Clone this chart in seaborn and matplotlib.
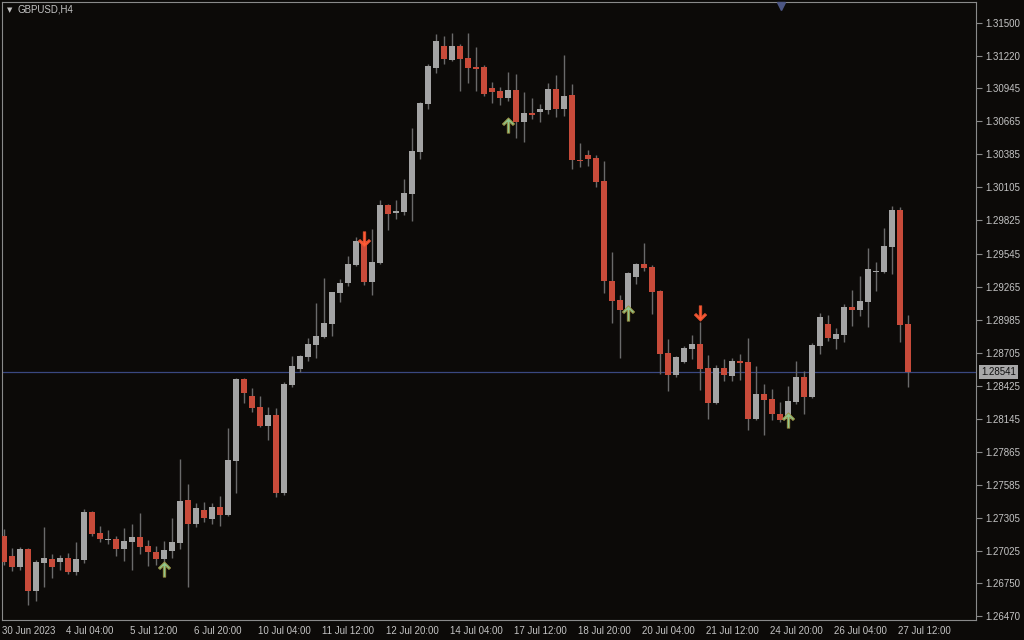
"""
Gráfico de candles GBPUSD H4 no estilo MetaTrader.
"""

import numpy as np
import pandas as pd
import matplotlib
matplotlib.use("Agg")
import matplotlib.pyplot as plt
import matplotlib.transforms as mtransforms
from matplotlib.path import Path
import seaborn as sns

SYMBOL = "GBPUSD,H4"

# Dados OHLC (30 Jun 20:00 -> 27 Jul 16:00)
opens = [
    1.27150, 1.26980, 1.26887, 1.27040, 1.26683, 1.26921, 1.26955, 1.26929, 1.26963, 1.26844,
    1.26946, 1.27353, 1.27175, 1.27116, 1.27124, 1.27040, 1.27099, 1.27141, 1.27065, 1.27014,
    1.26955, 1.27022, 1.27090, 1.27455, 1.27252, 1.27370, 1.27294, 1.27396, 1.27328, 1.27786,
    1.28481, 1.28337, 1.28244, 1.28083, 1.28176, 1.27514, 1.28430, 1.28566, 1.28668, 1.28769,
    1.28837, 1.28947, 1.29210, 1.29295, 1.29448, 1.29651, 1.29304, 1.29465, 1.29957, 1.29889,
    1.29897, 1.30050, 1.30406, 1.30813, 1.31118, 1.31305, 1.31186, 1.31305, 1.31203, 1.31127,
    1.31127, 1.30949, 1.30923, 1.30864, 1.30932, 1.30660, 1.30737, 1.30745, 1.30762, 1.30940,
    1.30771, 1.30889, 1.30338, 1.30381, 1.30355, 1.30160, 1.29312, 1.29151, 1.29066, 1.29346,
    1.29456, 1.29431, 1.29227, 1.28702, 1.28515, 1.28625, 1.28735, 1.28778, 1.28574, 1.28278,
    1.28574, 1.28506, 1.28634, 1.28625, 1.28142, 1.28354, 1.28311, 1.28184, 1.28142, 1.28286,
    1.28498, 1.28329, 1.28761, 1.28947, 1.28820, 1.28854, 1.29092, 1.29066, 1.29134, 1.29388,
    1.29388, 1.29600, 1.29914, 1.28947,
]
highs = [
    1.27209, 1.27048, 1.27056, 1.27048, 1.26946, 1.27226, 1.26997, 1.26989, 1.27006, 1.27099,
    1.27379, 1.27362, 1.27235, 1.27201, 1.27150, 1.27218, 1.27251, 1.27345, 1.27116, 1.27065,
    1.27108, 1.27302, 1.27803, 1.27591, 1.27430, 1.27438, 1.27430, 1.27489, 1.28066, 1.28490,
    1.28490, 1.28405, 1.28337, 1.28244, 1.28235, 1.28456, 1.28676, 1.28684, 1.28829, 1.29126,
    1.29338, 1.29219, 1.29329, 1.29524, 1.29685, 1.29677, 1.29753, 1.29999, 1.29965, 1.29999,
    1.30177, 1.30610, 1.30830, 1.31152, 1.31407, 1.31390, 1.31415, 1.31322, 1.31415, 1.31296,
    1.31144, 1.31000, 1.30957, 1.31085, 1.31068, 1.30915, 1.30864, 1.30813, 1.30991, 1.31059,
    1.31229, 1.30983, 1.30483, 1.30423, 1.30381, 1.30330, 1.29558, 1.29193, 1.29388, 1.29465,
    1.29634, 1.29448, 1.29236, 1.28820, 1.28676, 1.28761, 1.28854, 1.28964, 1.28684, 1.28600,
    1.28651, 1.28659, 1.28693, 1.28829, 1.28591, 1.28439, 1.28396, 1.28286, 1.28422, 1.28634,
    1.28549, 1.28786, 1.29041, 1.29024, 1.28913, 1.29117, 1.29236, 1.29354, 1.29592, 1.29473,
    1.29762, 1.29948, 1.29940, 1.29024,
]
lows = [
    1.26904, 1.26853, 1.26861, 1.26565, 1.26599, 1.26717, 1.26794, 1.26861, 1.26828, 1.26819,
    1.26921, 1.27150, 1.27099, 1.27082, 1.26980, 1.26938, 1.26861, 1.26997, 1.26895, 1.26904,
    1.26929, 1.26963, 1.27040, 1.26717, 1.27226, 1.27268, 1.27252, 1.27235, 1.27319, 1.27514,
    1.28278, 1.28201, 1.28074, 1.27964, 1.27480, 1.27497, 1.28413, 1.28540, 1.28634, 1.28659,
    1.28829, 1.28846, 1.29134, 1.29270, 1.29439, 1.29278, 1.29193, 1.29456, 1.29744, 1.29838,
    1.29872, 1.29821, 1.30347, 1.30771, 1.31076, 1.31152, 1.31178, 1.30923, 1.30991, 1.30923,
    1.30881, 1.30822, 1.30805, 1.30839, 1.30525, 1.30491, 1.30686, 1.30660, 1.30728, 1.30703,
    1.30711, 1.30262, 1.30279, 1.30288, 1.30109, 1.29210, 1.28956, 1.28659, 1.29000, 1.29287,
    1.29397, 1.29032, 1.28523, 1.28379, 1.28498, 1.28617, 1.28651, 1.28388, 1.28142, 1.28269,
    1.28464, 1.28464, 1.28472, 1.28049, 1.28133, 1.28006, 1.28133, 1.28116, 1.28099, 1.28269,
    1.28184, 1.28320, 1.28693, 1.28803, 1.28735, 1.28795, 1.28930, 1.29015, 1.28922, 1.29227,
    1.29380, 1.29371, 1.28795, 1.28413,
]
closes = [
    1.26929, 1.26887, 1.27040, 1.26683, 1.26929, 1.26963, 1.26887, 1.26963, 1.26844, 1.26955,
    1.27353, 1.27167, 1.27124, 1.27124, 1.27040, 1.27108, 1.27141, 1.27056, 1.27014, 1.26955,
    1.27031, 1.27099, 1.27447, 1.27252, 1.27387, 1.27302, 1.27396, 1.27328, 1.27794, 1.28481,
    1.28362, 1.28235, 1.28083, 1.28176, 1.27514, 1.28439, 1.28591, 1.28676, 1.28778, 1.28846,
    1.28956, 1.29219, 1.29295, 1.29456, 1.29651, 1.29304, 1.29473, 1.29957, 1.29880, 1.29906,
    1.30058, 1.30414, 1.30822, 1.31135, 1.31347, 1.31195, 1.31305, 1.31195, 1.31118, 1.31110,
    1.30898, 1.30915, 1.30864, 1.30932, 1.30660, 1.30737, 1.30720, 1.30771, 1.30940, 1.30771,
    1.30881, 1.30338, 1.30330, 1.30347, 1.30152, 1.29312, 1.29143, 1.29066, 1.29380, 1.29456,
    1.29422, 1.29219, 1.28693, 1.28515, 1.28668, 1.28744, 1.28778, 1.28566, 1.28278, 1.28574,
    1.28515, 1.28634, 1.28617, 1.28142, 1.28354, 1.28303, 1.28184, 1.28133, 1.28295, 1.28498,
    1.28329, 1.28769, 1.29007, 1.28829, 1.28863, 1.29092, 1.29066, 1.29143, 1.29414, 1.29397,
    1.29609, 1.29914, 1.28939, 1.28541,
]

# Escala de tempo (índice do candle -> rótulo)
time_label_bars = [0, 8, 16, 24, 32, 40, 48, 56, 64, 72, 80, 88, 96, 104, 112]
time_labels = [
    "30 Jun 2023", "4 Jul 04:00", "5 Jul 12:00", "6 Jul 20:00", "10 Jul 04:00",
    "11 Jul 12:00", "12 Jul 20:00", "14 Jul 04:00", "17 Jul 12:00", "18 Jul 20:00",
    "20 Jul 04:00", "21 Jul 12:00", "24 Jul 20:00", "26 Jul 04:00", "27 Jul 12:00",
]

# Escala de preço
price_ticks = [
    1.31500, 1.31220, 1.30945, 1.30665, 1.30385, 1.30105, 1.29825, 1.29545, 1.29265,
    1.28985, 1.28705, 1.28425, 1.28145, 1.27865, 1.27585, 1.27305, 1.27025, 1.26750, 1.26470,
]
current_price = 1.28541

# Sinais do indicador (setas)
buy_bars = [20, 63, 78, 98]
buy_prices = [1.26873, 1.30635, 1.29041, 1.28133]
sell_bars = [45, 87]
sell_prices = [1.29668, 1.29041]

BG = "#0c0a08"
BULL = "#a4a4a4"
BEAR = "#c84b3a"
WICK = "#6a6a6a"
TEXT = "#c4c4c4"
FRAME = "#8a8a8a"

# Forma da seta (estilo Wingdings do terminal), apontando para cima
ARROW_UP = Path([
    (0.0, 1.0), (0.8, 0.2), (0.58, 0.0), (0.16, 0.42), (0.16, -1.0),
    (-0.16, -1.0), (-0.16, 0.42), (-0.58, 0.0), (-0.8, 0.2), (0.0, 1.0),
], closed=True)
ARROW_DOWN = Path([(x, -y) for x, y in ARROW_UP.vertices], closed=True)


def build_frame():
    """
    Monta o DataFrame de candles.

    Returns:
        DataFrame com OHLC e cor de cada candle
    """
    df = pd.DataFrame({"open": opens, "high": highs, "low": lows, "close": closes})
    df["bar"] = np.arange(len(df))
    df["bull"] = df["close"] >= df["open"]
    df["color"] = np.where(df["bull"], BULL, BEAR)
    return df


def plot_candles(ax, df):
    """
    Desenha pavios e corpos dos candles.
    """
    ax.vlines(df["bar"], df["low"], df["high"], color=WICK, linewidth=1, zorder=2)
    body = np.maximum((df["close"] - df["open"]).abs(), 0.00009)
    bottom = df[["open", "close"]].min(axis=1)
    ax.bar(df["bar"], body, bottom=bottom, width=0.86, color=df["color"],
           linewidth=0, zorder=3)


def plot_signals(ax):
    """
    Desenha as setas de compra e venda.
    """
    ax.plot(buy_bars, buy_prices, linestyle="none", marker=ARROW_UP, markersize=11,
            color="#8fc58c", markeredgecolor="#9c8f3e", markeredgewidth=0.6, zorder=4)
    ax.plot(sell_bars, sell_prices, linestyle="none", marker=ARROW_DOWN, markersize=11,
            color="#ff5a36", markeredgecolor="#e0502e", markeredgewidth=0.6, zorder=4)


def style_axes(ax, fig):
    """
    Ajusta eixos, escalas e textos no estilo do terminal.
    """
    ax.set_xlim(-0.25, 121.5)
    ax.set_ylim(1.26437, 1.31678)

    for spine in ax.spines.values():
        spine.set_color(FRAME)
        spine.set_linewidth(0.8)

    # Escala de preço à direita
    ax.yaxis.tick_right()
    ax.set_yticks(price_ticks)
    ax.set_yticklabels([f"{v:.5f}" for v in price_ticks])
    ax.tick_params(axis="y", length=4, width=0.8, color=FRAME, labelcolor=TEXT,
                   labelsize=7, pad=3, left=False, right=True)

    # Escala de tempo embaixo
    ax.set_xticks(np.array(time_label_bars) - 0.25)
    ax.set_xticklabels(time_labels, ha="left")
    ax.tick_params(axis="x", length=3, width=0.8, color=FRAME, labelcolor=TEXT,
                   labelsize=7, pad=1)
    ax.grid(False)

    # Linha do preço atual e rótulo
    ax.axhline(current_price, color="#3a4880", linewidth=0.9, zorder=1)
    trans = mtransforms.blended_transform_factory(ax.transAxes, ax.transData)
    ax.text(1.0 + 5 / 974, current_price, f"{current_price:.5f}", transform=trans,
            ha="left", va="center", fontsize=7, color="#101010", clip_on=False,
            bbox=dict(boxstyle="square,pad=0.18", fc="#a8a8a8", ec="none"))

    # Marcador de deslocamento do gráfico
    ax.plot([0.8], [0.993], marker="v", markersize=6, color="#4c5684",
            transform=ax.transAxes, clip_on=False, zorder=5)

    # Título do símbolo
    ax.text(5 / 974, 1 - 8 / 618, "\u25bc", transform=ax.transAxes, fontsize=5,
            color=TEXT, ha="left", va="center", family="DejaVu Sans")
    ax.text(16 / 974, 1 - 8 / 618, SYMBOL, transform=ax.transAxes, fontsize=7,
            color=TEXT, ha="left", va="center")


def main():
    sns.set_theme(style="dark", rc={
        "axes.facecolor": BG,
        "figure.facecolor": BG,
        "axes.edgecolor": FRAME,
    })
    plt.rcParams["font.family"] = ["Liberation Sans", "DejaVu Sans"]

    df = build_frame()

    fig = plt.figure(figsize=(10.24, 6.4), dpi=100)
    ax = fig.add_axes([2 / 1024, 20 / 640, 974 / 1024, 618 / 640])

    plot_candles(ax, df)
    plot_signals(ax)
    style_axes(ax, fig)

    fig.savefig("out.png", dpi=100, facecolor=BG)
    plt.close(fig)


if __name__ == "__main__":
    main()
